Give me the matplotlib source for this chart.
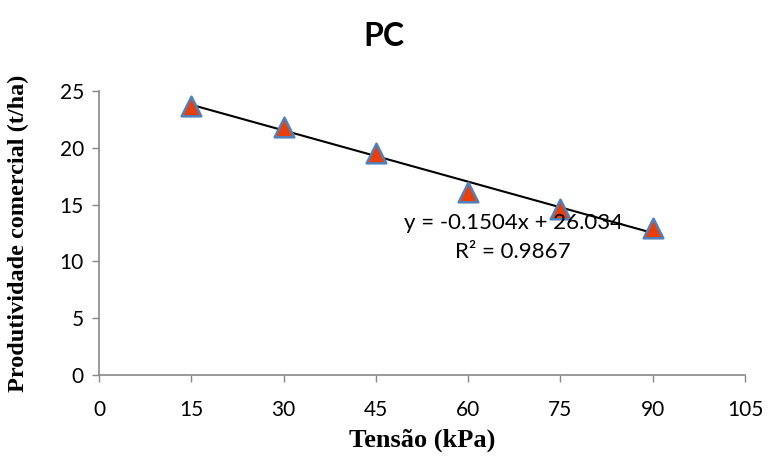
import matplotlib.pyplot as plt
import numpy as np

# data
tensao = [15, 30, 45, 60, 75, 90]
produtividade = [23.7, 21.8, 19.5, 16.1, 14.6, 12.9]
slope, intercept, r2 = -0.1504, 26.034, 0.9867
x_ticks = [0, 15, 30, 45, 60, 75, 90, 105]
y_ticks = [0, 5, 10, 15, 20, 25]

fig = plt.figure(figsize=(7.68, 4.59), dpi=100)
ax = fig.add_axes([0.129, 0.183, 0.841, 0.619])

x_fit = np.array([min(tensao), max(tensao)])
ax.plot(x_fit, slope * x_fit + intercept, color='black', lw=1.5, zorder=2)
ax.scatter(tensao, produtividade, marker='^', s=200, color='#E8400C',
           edgecolor='#4F81BD', linewidth=1.8, zorder=3)

ax.set_xlim(0, 105)
ax.set_ylim(0, 25)
ax.set_xticks(x_ticks)
ax.set_yticks(y_ticks)
for lab in ax.get_xticklabels() + ax.get_yticklabels():
    lab.set_fontfamily('Lato')
    lab.set_fontsize(15)
ax.tick_params(direction='out', length=5, color='#888888', width=1, pad=13)
ax.tick_params(axis='y', pad=6)

for s in ['top', 'right']:
    ax.spines[s].set_visible(False)
for s in ['left', 'bottom']:
    ax.spines[s].set_color('#888888')
    ax.spines[s].set_linewidth(1.2)

ax.set_xlabel('Tensão (kPa)', fontfamily='Liberation Serif', fontweight='bold', fontsize=19, labelpad=6)
ax.set_ylabel('Produtividade comercial (t/ha)', fontfamily='Liberation Serif', fontweight='bold', fontsize=17.5, labelpad=22)

fig.text(0.5, 0.92, 'PC', ha='center', va='center', fontfamily='Lato', fontweight='bold', fontsize=23)

ax.text(67.3, 13.4, f'y = {slope}x + {intercept}', ha='center', va='center', fontfamily='Lato', fontsize=16)
ax.text(67.3, 10.8, f'R² = {r2}', ha='center', va='center', fontfamily='Lato', fontsize=16)

fig.savefig('out.png', dpi=100)
